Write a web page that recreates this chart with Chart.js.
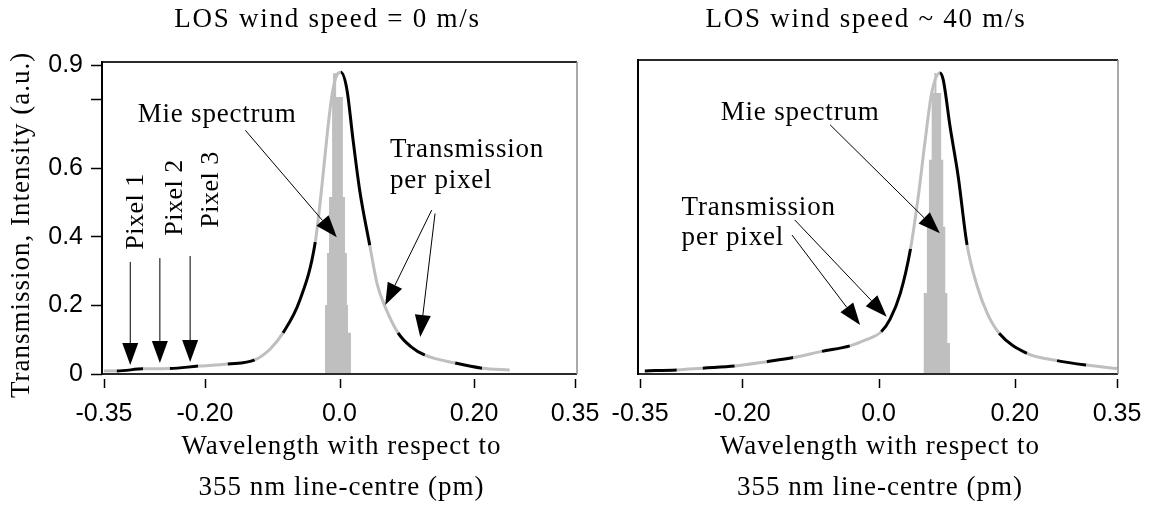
<!DOCTYPE html>
<html>
<head>
<meta charset="utf-8">
<script src="https://cdn.jsdelivr.net/npm/chart.js@4.4.1/dist/chart.umd.min.js"></script>
<style>
  html, body { margin: 0; padding: 0; background: #fff; }
  #wrap { position: relative; width: 1152px; height: 505px; }
  #wrap canvas { position: absolute; left: 0; top: 0; }
</style>
</head>
<body>
<div id="wrap">
  <canvas id="left" width="1152" height="505"></canvas>
  <canvas id="right" width="1152" height="505"></canvas>
</div>
<script>
// detector pixel borders (pm), the curve alternates black / grey between them
const pixelEdges = [-0.340, -0.295, -0.256, -0.210, -0.166, -0.125, -0.084, -0.040, 0.003, 0.046, 0.088, 0.129, 0.175, 0.218, 0.262, 0.306];

const xTicks = [-0.35, -0.20, 0.0, 0.20, 0.35];
const xTickLabels = ['-0.35', '-0.20', '0.0', '0.20', '0.35'];
const yTicks = [0, 0.2, 0.4, 0.6, 0.8, 0.9];
const yTickLabels = ['0', '0.2', '0.4', '0.6', '', '0.9'];

// LOS wind speed = 0 m/s
const wl0 = [-0.350, -0.331, -0.292, -0.252, -0.210, -0.166, -0.126, -0.103, -0.084, -0.059, -0.036, -0.025, -0.018, -0.011, -0.004, 0.002, 0.011, 0.020, 0.030, 0.045, 0.056, 0.068, 0.087, 0.106, 0.127, 0.172, 0.212, 0.253];
const tr0 = [0.009, 0.009, 0.015, 0.016, 0.023, 0.029, 0.041, 0.073, 0.120, 0.215, 0.385, 0.570, 0.705, 0.815, 0.872, 0.880, 0.830, 0.685, 0.536, 0.375, 0.262, 0.195, 0.120, 0.080, 0.055, 0.032, 0.017, 0.012];
const mieX0 = [-0.0215, -0.0186, -0.0156, -0.011, -0.0097, -0.005, 0.005, 0.0082, 0.011, 0.0126, 0.017, 0.020];
const mieY0 = [0.120, 0.201, 0.353, 0.516, 0.808, 0.877, 0.808, 0.516, 0.353, 0.201, 0.120, 0];

// LOS wind speed ~ 40 m/s
const wl40 = [-0.343, -0.296, -0.258, -0.211, -0.164, -0.125, -0.083, -0.042, -0.018, 0.004, 0.017, 0.032, 0.047, 0.059, 0.068, 0.078, 0.090, 0.095, 0.105, 0.117, 0.130, 0.145, 0.160, 0.177, 0.218, 0.262, 0.305, 0.351];
const tr40 = [0.009, 0.012, 0.017, 0.023, 0.036, 0.048, 0.066, 0.082, 0.100, 0.123, 0.160, 0.235, 0.365, 0.527, 0.673, 0.818, 0.877, 0.857, 0.721, 0.575, 0.376, 0.255, 0.175, 0.119, 0.060, 0.039, 0.026, 0.016];
const mieX40 = [0.066, 0.071, 0.074, 0.078, 0.082, 0.085, 0.092, 0.095, 0.098, 0.101, 0.105, 0.108];
const mieY40 = [0.090, 0.236, 0.429, 0.624, 0.819, 0.877, 0.819, 0.624, 0.429, 0.236, 0.090, 0];

const GREY = '#bfbfbf';
const SERIF = '"Liberation Serif", "Times New Roman", serif';
const SANS = '"Liberation Sans", Arial, sans-serif';

function pixelShade(x) {
  const k = pixelEdges.filter(e => e <= x).length;
  return k % 2 ? '#000' : GREY;
}

function line(ctx, x1, y1, x2, y2) {
  ctx.beginPath(); ctx.moveTo(x1, y1); ctx.lineTo(x2, y2); ctx.stroke();
}

function arrow(ctx, x1, y1, x2, y2) {
  const a = Math.atan2(y2 - y1, x2 - x1);
  const len = 22, w = 8;
  const bx = x2 - len * Math.cos(a), by = y2 - len * Math.sin(a);
  line(ctx, x1, y1, bx, by);
  ctx.beginPath();
  ctx.moveTo(x2, y2);
  ctx.lineTo(bx + w * Math.sin(a), by - w * Math.cos(a));
  ctx.lineTo(bx - w * Math.sin(a), by + w * Math.cos(a));
  ctx.closePath();
  ctx.fill();
}

function text(ctx, str, x, y, size, spacing, align, rot) {
  ctx.save();
  ctx.font = size + 'px ' + SERIF;
  ctx.letterSpacing = spacing + 'px';
  ctx.textAlign = align;
  ctx.textBaseline = 'alphabetic';
  ctx.translate(x, y);
  if (rot) ctx.rotate(-Math.PI / 2);
  ctx.fillText(str, 0, 0);
  ctx.restore();
}

const notes = {
  id: 'notes',
  afterDraw(chart, args, opts) {
    const { ctx, chartArea: ca, scales: { x, y } } = chart;
    ctx.save();
    // frame
    ctx.lineWidth = 2;
    ctx.strokeStyle = '#2a2a2a';
    line(ctx, ca.left, ca.top, ca.right, ca.top);
    line(ctx, ca.left, ca.bottom, ca.right, ca.bottom);
    ctx.strokeStyle = '#000';
    line(ctx, ca.left, ca.top - 1, ca.left, ca.bottom + 1);
    ctx.strokeStyle = '#8c8c8c';
    ctx.lineWidth = 1.5;
    line(ctx, ca.right, ca.top, ca.right, ca.bottom);
    // x tick marks, detached from the axis
    ctx.strokeStyle = '#000';
    ctx.lineWidth = 1.5;
    xTicks.forEach(v => {
      const px = Math.round(x.getPixelForValue(v)) + 0.5;
      line(ctx, px, ca.bottom + 5, px, ca.bottom + 14);
    });
    // arrows
    ctx.fillStyle = '#000';
    ctx.lineWidth = 1;
    opts.arrows.forEach(a => arrow(ctx, x.getPixelForValue(a[0]), y.getPixelForValue(a[1]),
      x.getPixelForValue(a[2]), y.getPixelForValue(a[3])));
    // labels inside the plot
    opts.texts.forEach(t => text(ctx, t.t, x.getPixelForValue(t.x), y.getPixelForValue(t.y),
      t.rot ? 26 : 27, t.rot ? 0.5 : 0.8, t.align || 'center', t.rot));
    // titles
    const cx = (ca.left + ca.right) / 2;
    text(ctx, opts.title, cx - 12, 27, 27, 1.75, 'center');
    text(ctx, 'Wavelength with respect to', cx + 2, ca.bottom + 80, 27, 1, 'center');
    text(ctx, '355 nm line-centre (pm)', cx + 2, ca.bottom + 121, 27, 1, 'center');
    if (opts.yTitle) text(ctx, opts.yTitle, 29, 225, 27, 1, 'center', true);
    ctx.restore();
  }
};

function makeChart(id, wl, tr, mieX, mieY, opts) {
  return new Chart(document.getElementById(id), {
    type: 'line',
    data: {
      datasets: [{
        data: wl.map((v, i) => ({ x: v, y: tr[i] })),
        borderColor: '#000',
        borderWidth: 3,
        pointRadius: 0,
        cubicInterpolationMode: 'monotone',
        segment: { borderColor: c => pixelShade((c.p0.parsed.x + c.p1.parsed.x) / 2) },
        order: 0
      }, {
        data: mieX.map((v, i) => ({ x: v, y: mieY[i] })),
        stepped: 'after',
        fill: 'origin',
        backgroundColor: GREY,
        borderWidth: 0,
        pointRadius: 0,
        order: 1
      }]
    },
    options: {
      responsive: false,
      animation: false,
      events: [],
      layout: { padding: opts.padding },
      plugins: {
        legend: { display: false },
        tooltip: { enabled: false },
        notes: opts.notes
      },
      scales: {
        x: {
          type: 'linear',
          min: -0.353,
          max: opts.xMax,
          afterBuildTicks: s => { s.ticks = xTicks.map(v => ({ value: v })); },
          afterFit: s => { s.height = 131; s.paddingLeft = 0; s.paddingRight = 0; },
          grid: { display: false },
          border: { display: false },
          ticks: {
            autoSkip: false, maxRotation: 0, padding: 17, color: '#000',
            font: { family: SANS, size: 25 },
            callback: v => xTickLabels[xTicks.indexOf(v)]
          }
        },
        y: {
          display: opts.showY,
          min: 0,
          max: opts.yMax,
          afterBuildTicks: s => { s.ticks = yTicks.map(v => ({ value: v })); },
          afterFit: s => { s.width = opts.showY ? 102 : 0; },
          grid: { drawOnChartArea: false, tickLength: 11, tickWidth: 1.5, tickColor: '#000' },
          border: { display: false },
          ticks: {
            autoSkip: false, padding: 8, color: '#000',
            font: { family: SANS, size: 25 },
            callback: v => yTickLabels[yTicks.indexOf(v)]
          }
        }
      }
    },
    plugins: [notes]
  });
}

makeChart('left', wl0, tr0, mieX0, mieY0, {
  padding: { left: 0, top: 62, right: 575, bottom: 0 },
  xMax: 0.353, yMax: 0.91, showY: true,
  notes: {
    title: 'LOS wind speed = 0 m/s',
    yTitle: 'Transmission, Intensity (a.u.)',
    texts: [
      { t: 'Mie spectrum', x: -0.182, y: 0.735 },
      { t: 'Transmission', x: 0.075, y: 0.633, align: 'left' },
      { t: 'per pixel', x: 0.075, y: 0.542, align: 'left' },
      { t: 'Pixel 1', x: -0.292, y: 0.474, rot: true },
      { t: 'Pixel 2', x: -0.234, y: 0.515, rot: true },
      { t: 'Pixel 3', x: -0.180, y: 0.538, rot: true }
    ],
    arrows: [
      [-0.140, 0.711, -0.004, 0.399],
      [0.137, 0.478, 0.068, 0.201],
      [0.142, 0.468, 0.120, 0.108],
      [-0.311, 0.327, -0.311, 0.026],
      [-0.267, 0.338, -0.267, 0.032],
      [-0.222, 0.344, -0.222, 0.035]
    ]
  }
});

makeChart('right', wl40, tr40, mieX40, mieY40, {
  padding: { left: 638, top: 60, right: 34, bottom: 0 },
  xMax: 0.3515, yMax: 0.915, showY: false,
  notes: {
    title: 'LOS wind speed ~ 40 m/s',
    texts: [
      { t: 'Mie spectrum', x: -0.115, y: 0.74 },
      { t: 'Transmission', x: -0.289, y: 0.463, align: 'left' },
      { t: 'per pixel', x: -0.289, y: 0.376, align: 'left' }
    ],
    arrows: [
      [-0.071, 0.726, 0.090, 0.410],
      [-0.123, 0.449, 0.012, 0.167],
      [-0.127, 0.405, -0.027, 0.143]
    ]
  }
});
</script>
</body>
</html>
